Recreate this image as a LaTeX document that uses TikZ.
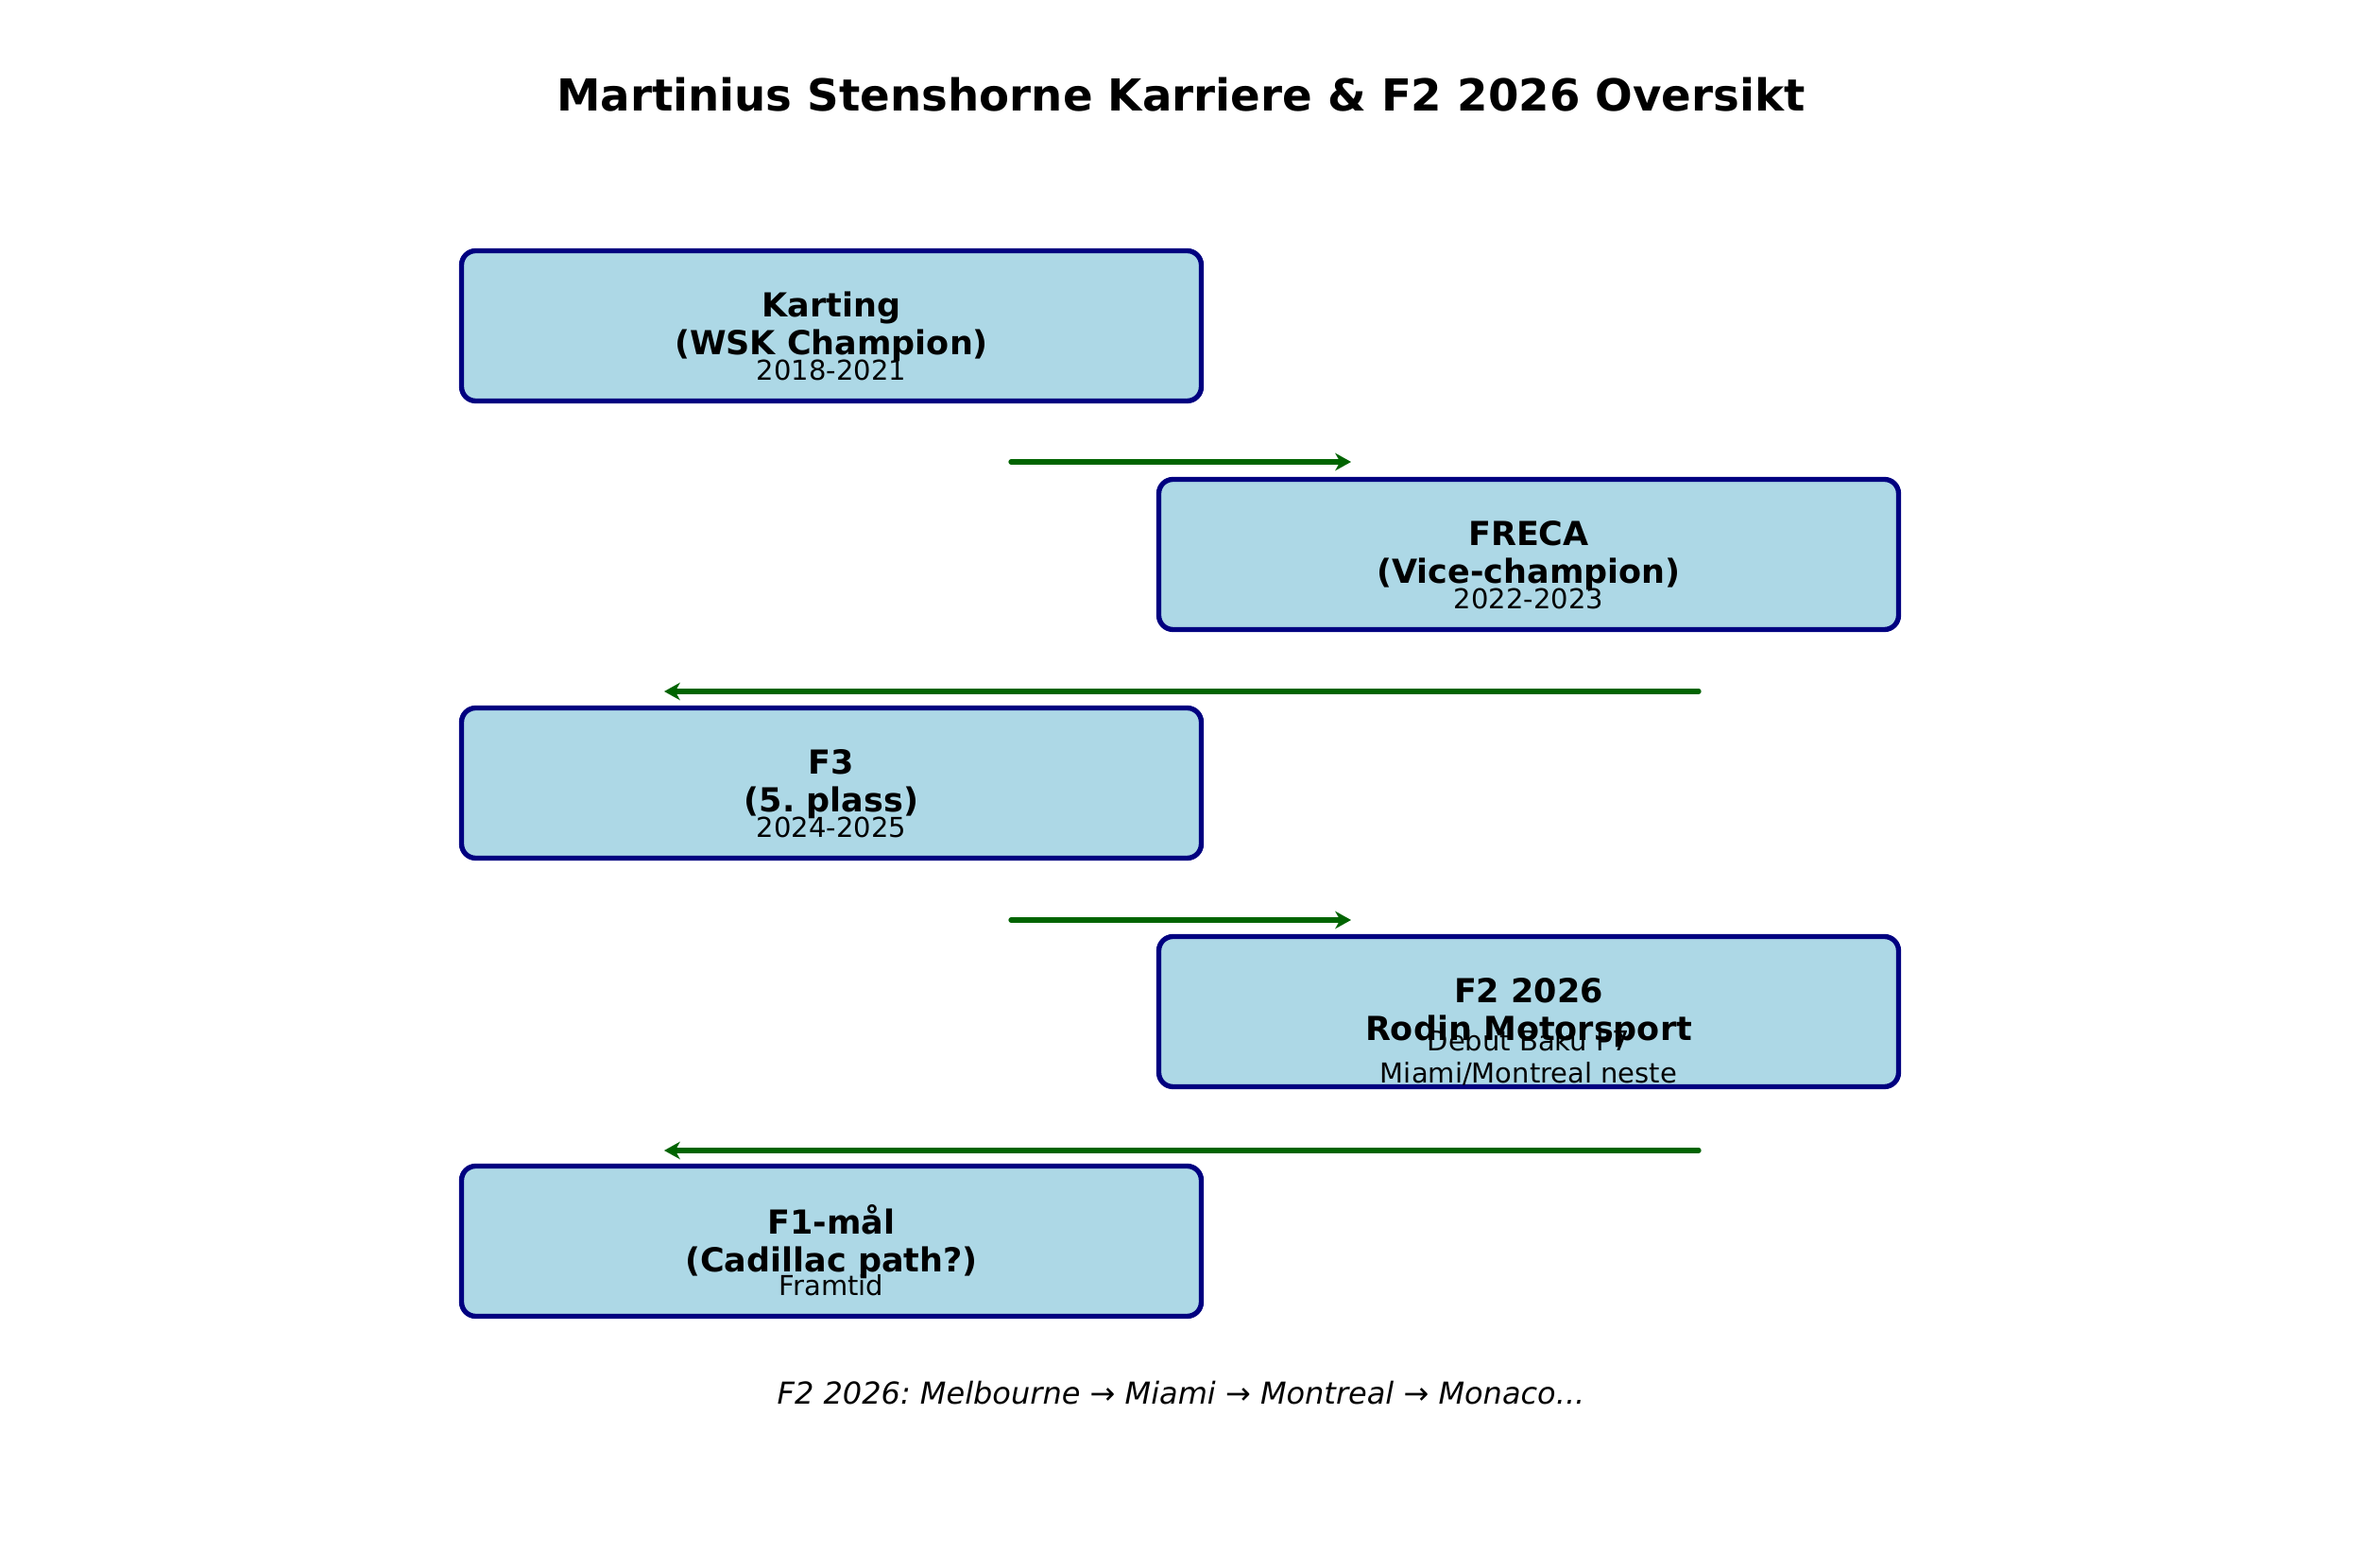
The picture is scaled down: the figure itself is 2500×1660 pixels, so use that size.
\documentclass[tikz,border=0pt]{standalone}
\usepackage{fontspec}
\setmainfont{DejaVu Sans}
\usetikzlibrary{arrows.meta}
\definecolor{boxfill}{HTML}{ADD8E6}
\definecolor{boxline}{HTML}{000080}
\definecolor{arrowc}{HTML}{006400}
\frenchspacing
\begin{document}
\begin{tikzpicture}[x=0.3pt,y=-0.3pt,
  stagebox/.style={draw=boxline,fill=boxfill,line width=1.6pt,rounded corners=4.5pt,
    minimum width=234.9pt,minimum height=47.7pt,inner sep=0pt},
  maintext/.style={align=center,font=\fontsize{10.5}{12}\selectfont\bfseries,inner sep=0pt},
  subtext/.style={align=center,font=\fontsize{8.7}{10.2}\selectfont,inner sep=0pt},
  flow/.style={draw=arrowc,line width=1.6pt,line cap=round,-{Stealth[length=5pt,width=5.5pt,inset=1.5pt]}}]
\useasboundingbox (0,0) rectangle (2500,1660);
\node[font=\fontsize{14}{16}\selectfont\bfseries] (title) at (1250,100) {Martinius Stenshorne Karriere \& F2 2026 Oversikt};

\node[stagebox] (b1) at (880,345) {};
\node[stagebox] (b2) at (1618,587) {};
\node[stagebox] (b3) at (880,829) {};
\node[stagebox] (b4) at (1618,1071) {};
\node[stagebox] (b5) at (880,1314) {};

\node[maintext] (m1) at (880,346) {Karting\\(WSK Champion)};
\node[subtext] (s1) at (880,392) {2018-2021};
\node[maintext] (m2) at (1618,588) {FRECA\\(Vice-champion)};
\node[subtext] (s2) at (1618,634) {2022-2023};
\node[maintext] (m3) at (880,830) {F3\\(5. plass)};
\node[subtext] (s3) at (880,876) {2024-2025};
\node[maintext] (m4) at (1618,1072) {F2 2026\\Rodin Motorsport};
\node[subtext] (s4) at (1618,1120) {Debut Baku P7\\Miami/Montreal neste};
\node[maintext] (m5) at (880,1315) {F1-mål\\(Cadillac path?)};
\node[subtext] (s5) at (880,1361) {Framtid};

\coordinate (a1s) at (1070,489); \coordinate (a1e) at (1430,489);
\coordinate (a2s) at (1798,732); \coordinate (a2e) at (703,732);
\coordinate (a3s) at (1070,974); \coordinate (a3e) at (1430,974);
\coordinate (a4s) at (1798,1218); \coordinate (a4e) at (703,1218);
\draw[flow] (a1s) -- (a1e);
\draw[flow] (a2s) -- (a2e);
\draw[flow] (a3s) -- (a3e);
\draw[flow] (a4s) -- (a4e);

\node[font=\fontsize{9.6}{11}\selectfont\itshape] (foot) at (1250,1475) {F2 2026: Melbourne → Miami → Montreal → Monaco...};
\end{tikzpicture}
\end{document}
